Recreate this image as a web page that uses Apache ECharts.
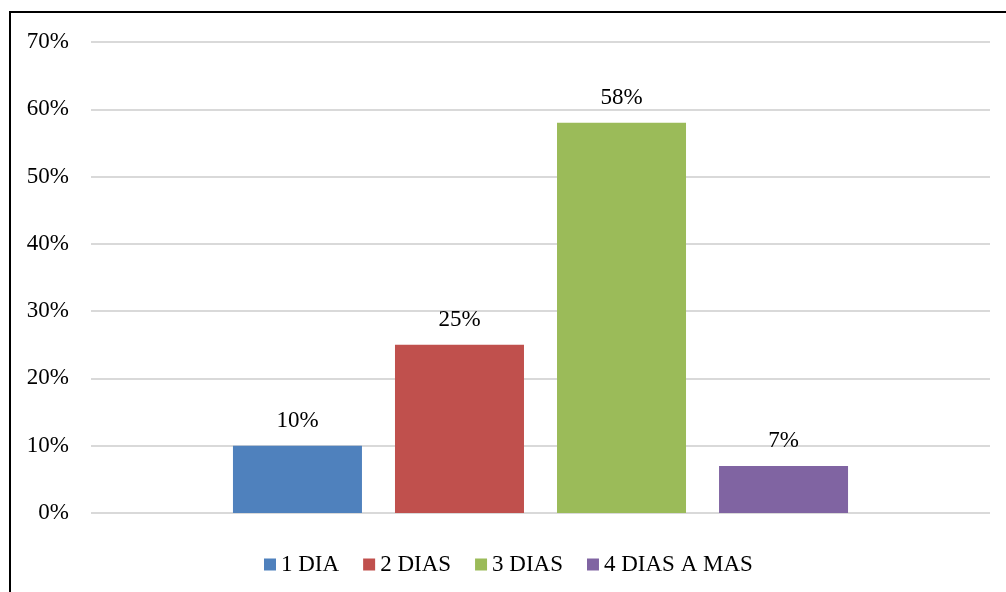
<!DOCTYPE html>
<html>
<head>
<meta charset="utf-8">
<script src="https://cdn.jsdelivr.net/npm/echarts@6/dist/echarts.min.js"></script>
<style>
  html, body { margin: 0; padding: 0; background: #fff; }
  #frame {
    position: absolute; left: 9px; top: 11px; width: 1100px; height: 700px;
    border-left: 2px solid #000; border-top: 2px solid #000;
  }
  #chart { position: absolute; left: 0; top: 0; width: 1006px; height: 592px; }
</style>
</head>
<body>
<div id="frame"></div>
<div id="chart"></div>
<script>
// data
const names = ['1 DIA', '2 DIAS', '3 DIAS', '4 DIAS A MAS'];
const values = [10, 25, 58, 7];
const colors = ['#4F81BD', '#C0504D', '#9BBB59', '#8064A2'];

const font = '"Liberation Serif", "Times New Roman", serif';

const chart = echarts.init(document.getElementById('chart'), null, { renderer: 'canvas' });

const series = names.map(function (n, i) {
  return {
    name: n,
    type: 'bar',
    data: [values[i]],
    barWidth: 129,
    barGap: '25.6%',
    itemStyle: { color: colors[i] },
    label: {
      show: true,
      position: 'top',
      distance: 13,
      formatter: '{c}%',
      color: '#000',
      fontFamily: font,
      fontSize: 23
    }
  };
});

chart.setOption({
  animation: false,
  grid: { left: 91, right: 16, top: 42, bottom: 79, containLabel: false },
  legend: {
    bottom: 11,
    left: 259,
    icon: 'rect',
    itemWidth: 12,
    itemHeight: 12,
    itemGap: 24,
    textStyle: { fontFamily: font, fontSize: 23, color: '#000' },
    data: names
  },
  xAxis: {
    type: 'category',
    data: [''],
    axisLine: { show: false },
    axisTick: { show: false },
    axisLabel: { show: false }
  },
  yAxis: {
    type: 'value',
    min: 0,
    max: 70,
    interval: 10,
    axisLine: { show: false },
    axisTick: { show: false },
    axisLabel: {
      formatter: '{value}%',
      fontFamily: font,
      fontSize: 23,
      color: '#000',
      margin: 22
    },
    splitLine: { lineStyle: { color: '#d9d9d9', width: 2 } }
  },
  series: series
});
</script>
</body>
</html>
